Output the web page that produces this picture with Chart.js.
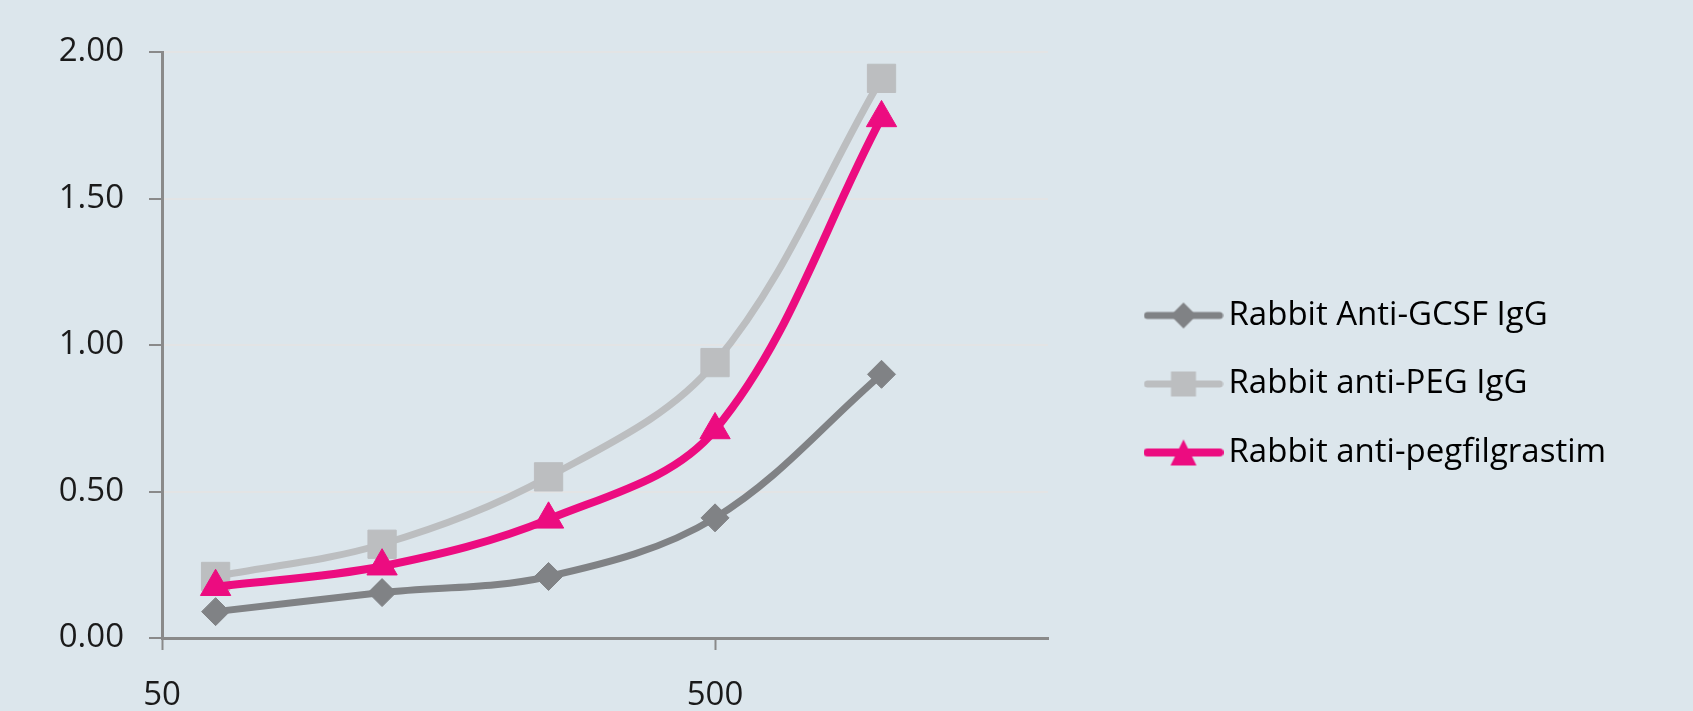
<!DOCTYPE html>
<html lang="en">
<head>
    <meta charset="UTF-8">
    <title>Rabbit antibody binding curves</title>
    <style>
        body {
            margin: 0;
            background-color: #dce6ec;
        }
        #wrap {
            width: 1693px;
            height: 711px;
        }
    </style>
</head>
<body>
    <div id="wrap"><canvas id="chart" width="1693" height="711"></canvas></div>

    <script src="https://cdn.jsdelivr.net/npm/chart.js"></script>

    <script>
        // x values (log axis), one per point
        const concentrations = [62.5, 125, 250, 500, 1000];
        const xTickValues = [50, 500];

        // series values
        const gcsfValues = [0.09, 0.155, 0.21, 0.41, 0.90];
        const pegValues = [0.21, 0.32, 0.55, 0.94, 1.91];
        const pegfilValues = [0.175, 0.245, 0.405, 0.71, 1.775];

        const seriesNames = ['Rabbit Anti-GCSF IgG', 'Rabbit anti-PEG IgG', 'Rabbit anti-pegfilgrastim'];
        const seriesColors = ['#808285', '#bcbec0', '#ec0c80'];

        const FONT = "'Open Sans', sans-serif";
        const AXIS_GRAY = '#8a8a8a';

        // legend placement (canvas px)
        const legendLeft = 1155;
        const legendTop = 299;

        // small swatch: line with the marker in the middle
        function makeSwatch(color, shape, lw) {
            const c = document.createElement('canvas');
            c.width = 80;
            c.height = 36;
            const g = c.getContext('2d');
            g.strokeStyle = color;
            g.fillStyle = color;
            g.lineWidth = lw;
            g.lineCap = 'round';
            g.beginPath();
            g.moveTo(4, 18);
            g.lineTo(76, 18);
            g.stroke();
            g.beginPath();
            if (shape === 'diamond') {
                g.moveTo(40, 5); g.lineTo(53, 18); g.lineTo(40, 31); g.lineTo(27, 18);
            } else if (shape === 'square') {
                g.rect(27.5, 5.5, 25, 25);
            } else {
                g.moveTo(40, 5); g.lineTo(53, 31); g.lineTo(27, 31);
            }
            g.closePath();
            g.fill();
            return c;
        }
        const swatches = [
            makeSwatch(seriesColors[0], 'diamond', 7),
            makeSwatch(seriesColors[1], 'square', 7),
            makeSwatch(seriesColors[2], 'triangle', 8)
        ];

        // move the legend box to where the original has it
        const legendPlace = {
            id: 'legendPlace',
            afterLayout(chart) {
                const lg = chart.legend;
                const pad = lg.options.labels.padding;
                lg.left = legendLeft - pad;
                lg.right = lg.left + 560;
                lg.top = legendTop - pad;
                lg.bottom = lg.top + 320;
            }
        };

        function toPoints(values) {
            return values.map((v, i) => ({ x: concentrations[i], y: v }));
        }

        const ctx = document.getElementById('chart').getContext('2d');
        new Chart(ctx, {
            type: 'line',
            data: {
                datasets: [
                    {
                        label: seriesNames[0],
                        data: toPoints(gcsfValues),
                        borderColor: seriesColors[0],
                        backgroundColor: seriesColors[0],
                        borderWidth: 7,
                        pointStyle: 'rectRot',
                        pointRadius: 14,
                        pointBorderWidth: 1,
                        order: 2
                    },
                    {
                        label: seriesNames[1],
                        data: toPoints(pegValues),
                        borderColor: seriesColors[1],
                        backgroundColor: seriesColors[1],
                        borderWidth: 7,
                        pointStyle: 'rect',
                        pointRadius: 20,
                        pointBorderWidth: 1,
                        order: 1
                    },
                    {
                        label: seriesNames[2],
                        data: toPoints(pegfilValues),
                        borderColor: seriesColors[2],
                        backgroundColor: seriesColors[2],
                        borderWidth: 8,
                        pointStyle: 'triangle',
                        pointRadius: 17.5,
                        pointBorderWidth: 1,
                        order: 0
                    }
                ]
            },
            options: {
                responsive: false,
                animation: false,
                tension: 0.35,
                layout: {
                    padding: { left: 0, top: 52, right: 345, bottom: 0 }
                },
                plugins: {
                    tooltip: { enabled: false },
                    legend: {
                        position: 'right',
                        align: 'start',
                        maxWidth: 300,
                        labels: {
                            usePointStyle: true,
                            pointStyleWidth: 57,
                            padding: 35.5,
                            color: '#1a1a1a',
                            font: { family: FONT, size: 33 },
                            generateLabels: (chart) => chart.data.datasets.map((ds, i) => ({
                                text: ds.label,
                                pointStyle: swatches[i],
                                fillStyle: ds.borderColor,
                                strokeStyle: ds.borderColor,
                                lineWidth: 0,
                                hidden: false,
                                datasetIndex: i
                            }))
                        }
                    }
                },
                scales: {
                    x: {
                        type: 'logarithmic',
                        min: 50,
                        max: 2000,
                        afterBuildTicks: (scale) => {
                            scale.ticks = xTickValues.map(v => ({ value: v }));
                        },
                        afterFit: (scale) => { scale.height = 73; },
                        grid: {
                            drawOnChartArea: false,
                            drawTicks: true,
                            tickLength: 12,
                            tickColor: AXIS_GRAY,
                            tickWidth: 2
                        },
                        border: { display: true, color: AXIS_GRAY, width: 3 },
                        ticks: {
                            padding: 26,
                            autoSkip: false,
                            maxRotation: 0,
                            color: '#1a1a1a',
                            font: { family: FONT, size: 33 },
                            callback: (v) => String(v)
                        }
                    },
                    y: {
                        min: 0,
                        max: 2,
                        afterFit: (scale) => { scale.width = 162; },
                        grid: {
                            color: '#e3e4e5',
                            lineWidth: 2,
                            drawTicks: true,
                            tickLength: 13,
                            tickColor: AXIS_GRAY,
                            tickWidth: 2
                        },
                        border: { display: true, color: AXIS_GRAY, width: 3 },
                        ticks: {
                            stepSize: 0.5,
                            padding: 25,
                            color: '#1a1a1a',
                            font: { family: FONT, size: 33 },
                            callback: (v) => Number(v).toFixed(2)
                        }
                    }
                }
            },
            plugins: [legendPlace]
        });
    </script>
</body>
</html>
